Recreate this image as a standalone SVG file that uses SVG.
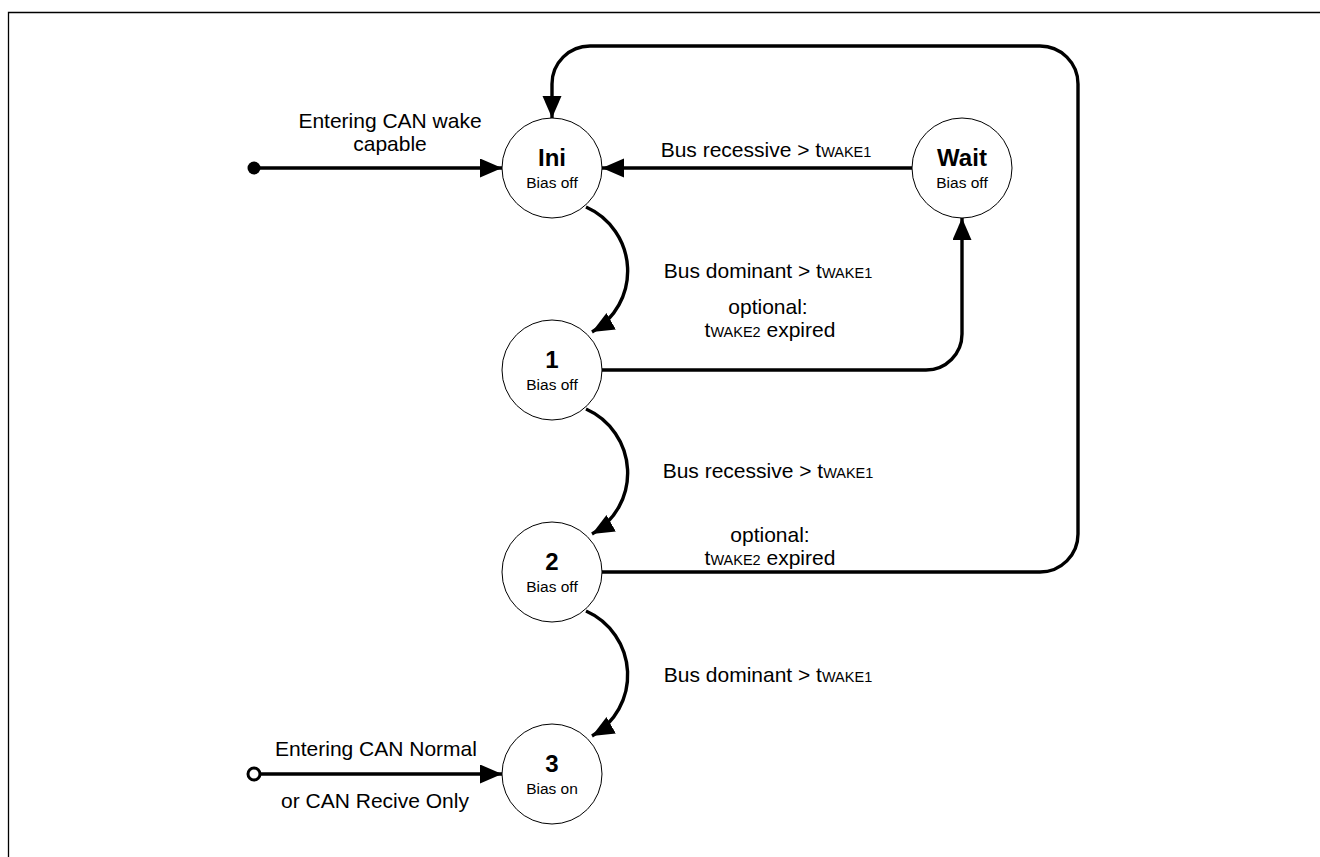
<svg xmlns="http://www.w3.org/2000/svg" width="1320" height="857" viewBox="0 0 1320 857">
<defs>
<marker id="arr" markerUnits="userSpaceOnUse" markerWidth="23" markerHeight="20" refX="22" refY="9.5" orient="auto" viewBox="0 0 23 20">
<path d="M0,0 L22,9.5 L0,19 z" fill="#000"/>
</marker>
<style>
.node circle{fill:#fff;stroke:#000;stroke-width:1}
.title{font-family:"Liberation Sans",Arial,sans-serif;font-weight:bold;font-size:24px;text-anchor:middle;fill:#000}
.sub{font-family:"Liberation Sans",Arial,sans-serif;font-size:15.5px;text-anchor:middle;fill:#000}
.lbl{font-family:"Liberation Sans",Arial,sans-serif;font-size:21px;text-anchor:middle;fill:#000}
.sm{font-size:14.5px}
.conn{fill:none;stroke:#000;stroke-width:3.4}
</style>
</defs>
<rect width="1320" height="857" fill="#fff"/>
<path d="M8.5,857 V12.5 H1320" fill="none" stroke="#000" stroke-width="1.3"/>

<g id="connectors">
<path class="conn" d="M254,168 H502" marker-end="url(#arr)"/>
<circle cx="254" cy="168" r="6.5" fill="#000"/>
<path class="conn" d="M912,168 H602" marker-end="url(#arr)"/>
<path class="conn" d="M586,207 A70,70 0 0,1 592,332" marker-end="url(#arr)"/>
<path class="conn" d="M586,409 A70,70 0 0,1 592,534" marker-end="url(#arr)"/>
<path class="conn" d="M586,611 A70,70 0 0,1 592,736" marker-end="url(#arr)"/>
<path class="conn" d="M602,370 H926 A36,36 0 0,0 962,334 V218" marker-end="url(#arr)"/>
<path class="conn" d="M602,572 H1040 A38,38 0 0,0 1078,534 V84 A38,38 0 0,0 1040,46 H590 A38,38 0 0,0 552,84 V118" marker-end="url(#arr)"/>
<path class="conn" d="M254,774 H502" marker-end="url(#arr)"/>
<circle cx="254" cy="774" r="6" fill="#fff" stroke="#000" stroke-width="3"/>

<text class="lbl" x="390" y="128">Entering CAN wake</text>
<text class="lbl" x="390" y="151">capable</text>
<text class="lbl" x="766" y="157">Bus recessive &gt; t<tspan class="sm">WAKE1</tspan></text>
<text class="lbl" x="768" y="278">Bus dominant &gt; t<tspan class="sm">WAKE1</tspan></text>
<text class="lbl" x="768" y="314">optional:</text>
<text class="lbl" x="770" y="337">t<tspan class="sm">WAKE2</tspan> expired</text>
<text class="lbl" x="768" y="478">Bus recessive &gt; t<tspan class="sm">WAKE1</tspan></text>
<text class="lbl" x="770" y="542">optional:</text>
<text class="lbl" x="770" y="565">t<tspan class="sm">WAKE2</tspan> expired</text>
<text class="lbl" x="768" y="682">Bus dominant &gt; t<tspan class="sm">WAKE1</tspan></text>
<text class="lbl" x="376" y="756">Entering CAN Normal</text>
<text class="lbl" x="375" y="808">or CAN Recive Only</text>
</g>

<g id="node-ini" class="node">
<circle cx="552" cy="168" r="50"/>
<text class="title" x="552" y="166">Ini</text>
<text class="sub" x="552" y="188">Bias off</text>
</g>
<g id="node-wait" class="node">
<circle cx="962" cy="168" r="50"/>
<text class="title" x="962" y="166">Wait</text>
<text class="sub" x="962" y="188">Bias off</text>
</g>
<g id="node-1" class="node">
<circle cx="552" cy="370" r="50"/>
<text class="title" x="552" y="368">1</text>
<text class="sub" x="552" y="390">Bias off</text>
</g>
<g id="node-2" class="node">
<circle cx="552" cy="572" r="50"/>
<text class="title" x="552" y="570">2</text>
<text class="sub" x="552" y="592">Bias off</text>
</g>
<g id="node-3" class="node">
<circle cx="552" cy="774" r="50"/>
<text class="title" x="552" y="772">3</text>
<text class="sub" x="552" y="794">Bias on</text>
</g>
</svg>
